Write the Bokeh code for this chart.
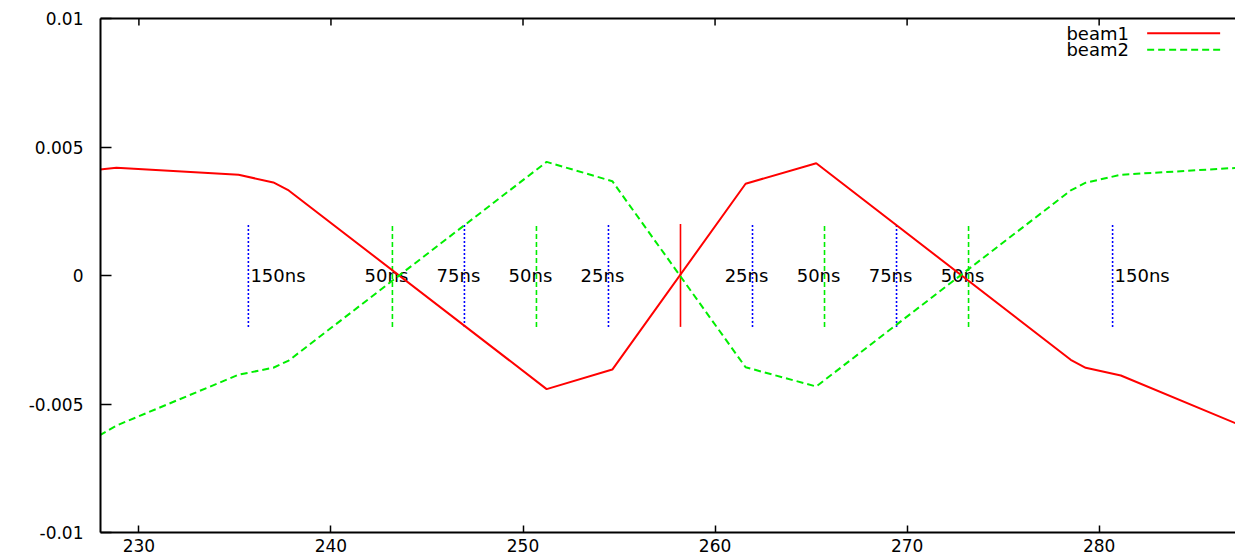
from bokeh.plotting import figure
from bokeh.models import Range1d, FixedTicker, LinearAxis, Label
from bokeh.core.properties import value
from bokeh.embed import file_html
from bokeh.resources import INLINE

# ---- data ----
beam1_x = [227.95, 228.83, 235.19, 237.0, 237.8, 251.23, 254.65, 261.59, 265.27, 278.52, 279.3, 281.13, 287.2]
beam1_y = [0.00412, 0.00419, 0.00392, 0.00362, 0.00331, -0.00442, -0.00366, 0.00357, 0.00437, -0.00328, -0.00359, -0.00389, -0.00578]
beam2_x = [227.95, 228.83, 235.19, 237.0, 237.8, 251.23, 254.65, 261.59, 265.27, 278.52, 279.3, 281.13, 287.2]
beam2_y = [-0.00622, -0.00584, -0.00386, -0.00359, -0.00331, 0.00442, 0.00367, -0.00357, -0.00432, 0.00331, 0.00361, 0.00392, 0.00419]

blue_marks = [235.7, 246.95, 254.45, 261.95, 269.45, 280.7]
green_marks = [243.2, 250.7, 265.7, 273.2]
red_marks = [258.2]
mark_lo = -0.002
mark_hi = 0.002

side_labels_x = [235.7, 280.7]
side_labels = ["150ns", "150ns"]
mid_labels_x = [243.2, 246.95, 250.7, 254.45, 261.95, 265.7, 269.45, 273.2]
mid_labels = ["50ns", "75ns", "50ns", "25ns", "25ns", "50ns", "75ns", "50ns"]

x_ticks = [230, 240, 250, 260, 270, 280]
y_ticks = [-0.01, -0.005, 0, 0.005, 0.01]
y_tick_labels = ["-0.01", "-0.005", "0", "0.005", "0.01"]
series_names = ["beam1", "beam2"]
x_lo, x_hi = 228.0, 287.1
y_lo, y_hi = -0.01, 0.01

FONT = "DejaVu Sans"

p = figure(width=1235, height=558, output_backend="svg", toolbar_location=None,
           x_range=Range1d(x_lo, x_hi), y_range=Range1d(y_lo, y_hi),
           x_axis_location=None, y_axis_location=None,
           min_border_left=100, min_border_right=0, min_border_top=18, min_border_bottom=26)
p.outline_line_color = None
p.xgrid.visible = False
p.ygrid.visible = False
p.background_fill_color = "white"
p.border_fill_color = "white"

def style_axis(ax, tick_in):
    ax.axis_line_width = 2
    ax.axis_line_color = "black"
    ax.major_tick_line_width = 1.5
    ax.major_tick_line_color = "black"
    ax.major_tick_in = tick_in
    ax.major_tick_out = 0
    ax.minor_tick_line_color = None
    ax.major_label_text_font = FONT
    ax.major_label_text_font_size = "17px"
    ax.major_label_text_color = "black"

xb = LinearAxis(ticker=FixedTicker(ticks=x_ticks))
style_axis(xb, 7)
xb.major_label_standoff = 6
p.add_layout(xb, "below")

# top border line (no ticks / labels); mirrored ticks drawn as segments below
xt = LinearAxis(ticker=FixedTicker(ticks=[]))
style_axis(xt, 0)
xt.major_label_standoff = 0
p.add_layout(xt, "above")

yl = LinearAxis(ticker=FixedTicker(ticks=y_ticks))
style_axis(yl, 11)
yl.major_label_standoff = 17
yl.major_label_overrides = {t: s for t, s in zip(y_ticks, y_tick_labels)}
p.add_layout(yl, "left")

# mirrored tick marks on the top border (7 px long)
tick_len = (y_hi - y_lo) / 514 * 7
p.segment(x0=x_ticks, y0=[y_hi] * len(x_ticks), x1=x_ticks, y1=[y_hi - tick_len] * len(x_ticks),
          line_color="black", line_width=1.5)

# marker lines
p.segment(x0=blue_marks, y0=[mark_lo] * len(blue_marks), x1=blue_marks, y1=[mark_hi] * len(blue_marks),
          line_color="#0000ff", line_width=1.6, line_dash="2 2")
p.segment(x0=green_marks, y0=[mark_lo] * len(green_marks), x1=green_marks, y1=[mark_hi] * len(green_marks),
          line_color="#00ee00", line_width=1.6, line_dash="5 3")
p.segment(x0=red_marks, y0=[mark_lo] * len(red_marks), x1=red_marks, y1=[mark_hi] * len(red_marks),
          line_color="#ff0000", line_width=1.6)

# labels
p.text(x=side_labels_x, y=[0] * len(side_labels_x), text=side_labels, text_align="left",
       text_baseline="middle", x_offset=2, text_font=value(FONT), text_font_size="18px", text_color="black")
p.text(x=mid_labels_x, y=[0] * len(mid_labels_x), text=mid_labels, text_align="center",
       text_baseline="middle", x_offset=-6, text_font=value(FONT), text_font_size="18px", text_color="black")

# main series
p.line(beam1_x, beam1_y, line_color="#ff0000", line_width=2)
p.line(beam2_x, beam2_y, line_color="#00ee00", line_width=2, line_dash="7 4")

# gnuplot-style key: name on the left, sample line on the right
legend_text_y = [0.00943, 0.00878]
legend_text_x = 281.55
sample_x0, sample_x1 = 282.50, 286.30
sample_colors = ["#ff0000", "#00ee00"]
sample_dash = ["solid", "7 4"]
for name, ly, col, dash in zip(series_names, legend_text_y, sample_colors, sample_dash):
    p.add_layout(Label(x=legend_text_x, y=ly, text=name, text_align="right", text_baseline="middle",
                       text_font=FONT, text_font_size="18px", text_color="black"))
    p.line([sample_x0, sample_x1], [ly, ly], line_color=col, line_width=2, line_dash=dash)

open("out.html", "w").write(file_html(p, INLINE))
